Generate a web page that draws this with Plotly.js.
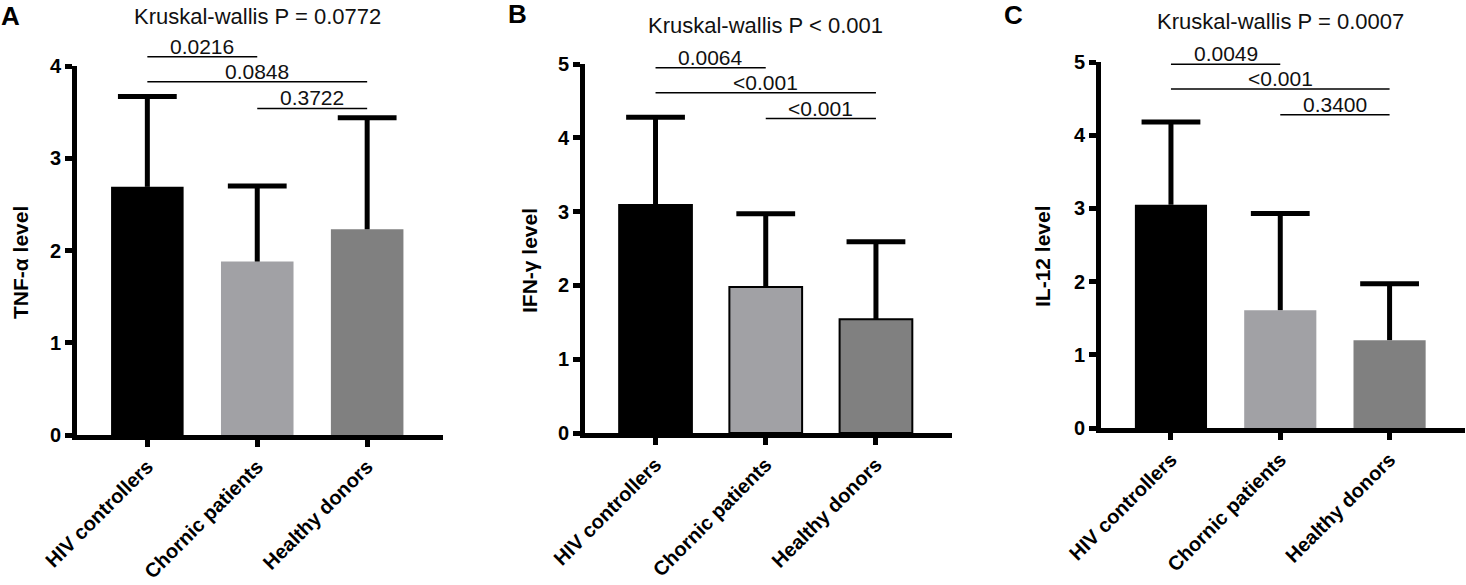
<!DOCTYPE html>
<html>
<head>
<meta charset="utf-8">
<script src="https://cdn.plot.ly/plotly-3.0.1.min.js"></script>
<style>
  body { margin: 0; background: #fff; }
  #plot { width: 1466px; height: 585px; }
</style>
</head>
<body>
<div id="plot"></div>
<script>
// groups on the x axis (spelling kept as in the figure)
var categories = ['HIV controllers', 'Chornic patients', 'Healthy donors'];

// mean and upper SD per group
var tnfMean = [2.69, 1.88, 2.23];
var tnfSD = [0.98, 0.82, 1.21];
var ifnMean = [3.09, 1.98, 1.54];
var ifnSD = [1.19, 0.99, 1.05];
var il12Mean = [3.05, 1.61, 1.20];
var il12SD = [1.13, 1.32, 0.77];

// pairwise comparisons: group index pairs, p labels, bracket heights
var pairs = [[0, 1], [0, 2], [1, 2]];
var tnfP = ['0.0216', '0.0848', '0.3722'];
var tnfLevels = [4.10, 3.83, 3.54];
var ifnP = ['0.0064', '&lt;0.001', '&lt;0.001'];
var ifnLevels = [4.95, 4.61, 4.26];
var il12P = ['0.0049', '&lt;0.001', '0.3400'];
var il12Levels = [4.97, 4.63, 4.28];

var kwText = ['Kruskal-wallis P = 0.0772', 'Kruskal-wallis P &lt; 0.001', 'Kruskal-wallis P = 0.0007'];
var yTitles = ['TNF-α level', 'IFN-γ level', 'IL-12 level'];
var yMax = [4, 5, 5];
var panelLetters = ['A', 'B', 'C'];

var barColors = ['#000000', '#a1a1a5', '#808080'];
var FONT = 'Liberation Sans, Arial, sans-serif';
var W = 1466, H = 585;

// layout boxes in pixels: [left, right] and [bottom, top]
var xPx = [[77, 443], [585, 952], [1101, 1465]];
var yPx = [[435, 66], [433, 64], [428, 62]];
var letterPx = [[10, 16], [517, 14], [1013, 15]];
var kwY = [16, 26, 22];
var yTitlePx = [[20, 263], [529, 261], [1042, 256]];
var outline = [0, 2, 0];

var panels = [
   {mean: tnfMean, sd: tnfSD, pText: tnfP, levels: tnfLevels},
   {mean: ifnMean, sd: ifnSD, pText: ifnP, levels: ifnLevels},
   {mean: il12Mean, sd: il12SD, pText: il12P, levels: il12Levels}
];

var traces = [];
var annotations = [];
var layout = {
   width: W,
   height: H,
   margin: {l: 0, r: 0, t: 0, b: 0},
   paper_bgcolor: 'white',
   plot_bgcolor: 'rgba(0,0,0,0)',
   showlegend: false,
   font: {family: FONT, color: 'black'}
};

panels.forEach(function(p, i) {
   var n = i + 1;
   var xid = i === 0 ? 'x' : 'x' + n;
   var yid = i === 0 ? 'y' : 'y' + n;
   var bid = 'y' + (n + 3);   // helper axis for the brackets above the plot
   var xkey = i === 0 ? 'xaxis' : 'xaxis' + n;
   var ykey = i === 0 ? 'yaxis' : 'yaxis' + n;
   var bkey = 'yaxis' + (n + 3);

   var bottom = (H - yPx[i][0]) / H;
   var top = (H - yPx[i][1]) / H;

   traces.push({
      type: 'bar',
      x: categories,
      y: p.mean,
      width: 0.66,
      xaxis: xid,
      yaxis: yid,
      marker: {color: barColors, line: {width: outline[i], color: 'black'}},
      error_y: {
         type: 'data',
         symmetric: false,
         array: p.sd,
         arrayminus: [0, 0, 0],
         thickness: 5,
         width: 0,
         color: 'black'
      },
      hoverinfo: 'x+y'
   });

   // caps of the error bars
   var upper = p.mean.map(function(m, k) { return m + p.sd[k]; });
   traces.push({
      type: 'scatter',
      mode: 'markers',
      x: categories,
      y: upper,
      xaxis: xid,
      yaxis: yid,
      marker: {symbol: 'line-ew', size: 42, color: 'black', line: {width: 5, color: 'black'}},
      hoverinfo: 'skip'
   });

   pairs.forEach(function(pr, k) {
      traces.push({
         type: 'scatter',
         mode: 'lines',
         x: [categories[pr[0]], categories[pr[1]]],
         y: [p.levels[k], p.levels[k]],
         xaxis: xid,
         yaxis: bid,
         line: {color: 'black', width: 1.5},
         hoverinfo: 'skip'
      });
      annotations.push({
         xref: xid, yref: bid,
         x: (pr[0] + pr[1]) / 2, y: p.levels[k],
         xanchor: 'center', yanchor: 'bottom', yshift: -3,
         text: p.pText[k], showarrow: false,
         font: {family: FONT, size: 21, color: '#111'}
      });
   });

   layout[xkey] = {
      domain: [xPx[i][0] / W, xPx[i][1] / W],
      anchor: yid,
      type: 'category',
      range: [-0.64, 2.69],
      showline: true, linewidth: 5, linecolor: 'black',
      ticks: 'outside', ticklen: 7, tickwidth: 5, tickcolor: 'black',
      tickangle: -45,
      tickfont: {family: FONT, size: 20, color: 'black', weight: 'bold'},
      showgrid: false, zeroline: false, fixedrange: true
   };
   layout[ykey] = {
      domain: [bottom, top],
      anchor: xid,
      range: [0, yMax[i]],
      dtick: 1,
      showline: true, linewidth: 5, linecolor: 'black',
      ticks: 'outside', ticklen: 7, tickwidth: 5, tickcolor: 'black',
      tickfont: {family: FONT, size: 20, color: 'black', weight: 'bold'},
      showgrid: false, zeroline: false, fixedrange: true
   };
   // same scale as the main y axis, stretched up to the top of the page
   layout[bkey] = {
      domain: [bottom, 1],
      anchor: xid,
      range: [0, yMax[i] * (1 - bottom) / (top - bottom)],
      visible: false, fixedrange: true
   };

   annotations.push({
      xref: 'paper', yref: 'paper',
      x: letterPx[i][0] / W, y: (H - letterPx[i][1]) / H,
      xanchor: 'center', yanchor: 'middle',
      text: panelLetters[i], showarrow: false,
      font: {family: FONT, size: 26, color: 'black', weight: 'bold'}
   });
   annotations.push({
      xref: xid, yref: 'paper',
      x: 1, y: (H - kwY[i]) / H,
      xanchor: 'center', yanchor: 'middle',
      text: kwText[i], showarrow: false,
      font: {family: FONT, size: 22, color: '#111'}
   });
   annotations.push({
      xref: 'paper', yref: 'paper',
      x: yTitlePx[i][0] / W, y: (H - yTitlePx[i][1]) / H,
      xanchor: 'center', yanchor: 'middle',
      textangle: -90,
      text: yTitles[i], showarrow: false,
      font: {family: FONT, size: 21, color: 'black', weight: 'bold'}
   });
});

layout.annotations = annotations;

Plotly.newPlot('plot', traces, layout, {displayModeBar: false, staticPlot: true});
</script>
</body>
</html>
